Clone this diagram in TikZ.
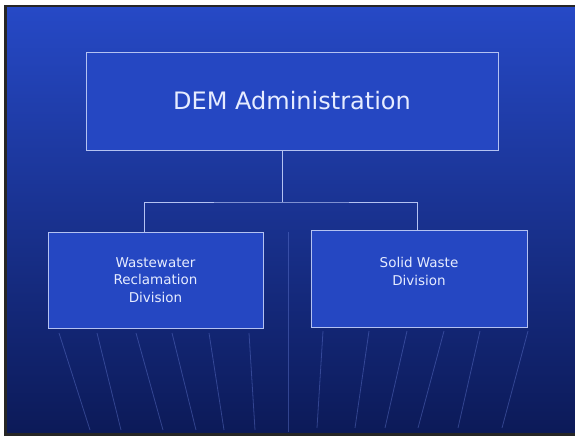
\documentclass[tikz,border=0pt]{standalone}
\usepackage{fontspec}
\setmainfont{DejaVu Sans}
\definecolor{slidetop}{HTML}{2649C6}
\definecolor{slidemid}{HTML}{1C37A6}
\definecolor{slidebot}{HTML}{0C1A58}
\definecolor{boxfill}{HTML}{2547C2}
\definecolor{boxline}{HTML}{B4C2F2}
\definecolor{inktext}{HTML}{E6ECFF}
\definecolor{streakc}{HTML}{6A80DA}
\begin{document}
\begin{tikzpicture}[x=1pt,y=-1pt]
\tikzstyle{orgbox}=[draw=boxline, fill=boxfill, line width=0.8pt, inner sep=0pt, text=inktext, align=center];
\tikzstyle{divtext}=[text=inktext, align=center, font=\fontsize{13.5}{17.5}\selectfont];
\tikzstyle{streak}=[draw=streakc, line width=0.8pt, opacity=0.4];

  % slide background and frame
  \useasboundingbox (0,0) rectangle (575,439);
  \fill[white] (0,0) rectangle (575,439);
  \shade[top color=slidetop, middle color=slidemid, bottom color=slidebot] (7,7) rectangle (577,433);
  \fill[black!85] (4,5) rectangle (7,436);
  \fill[black!85] (4,5) rectangle (577,7);
  \fill[black!85] (4,433) rectangle (577,436);

  % faint streaks at the bottom
  \foreach \top/\bot in {59/90, 97/121, 136/163, 172/196, 209/224, 249/255}
\draw [streak] (\top,333) -- (\bot,430);
  \foreach \top/\bot in {323/317, 369/355, 407/385, 444/418, 480/458, 528/502}
\draw [streak] (\top,331) -- (\bot,428);
  \draw [streak] (288,232) -- (288,432);

  \node[orgbox, minimum width=412, minimum height=98, font=\fontsize{24}{28}\selectfont] (admin) at (292,101) {DEM Administration};
  \node[orgbox, divtext, minimum width=215, minimum height=96] (wrd) at (155.5,280) {Wastewater\\Reclamation\\Division};
  \node[orgbox, minimum width=216, minimum height=97] (swd) at (419,278.5) {};
  \node[divtext] (swdname) at (419,271.5) {Solid Waste\\Division};

  \coordinate (bar) at (282,202);
  \draw [boxline, line width=0.8pt] ([xshift={-10}]admin.south) -- (bar);
  \draw [boxline, line width=0.8pt] ([xshift={-11.5}]wrd.north) |- (bar) -| ([xshift={-2}]swd.north);

\end{tikzpicture}
\end{document}
